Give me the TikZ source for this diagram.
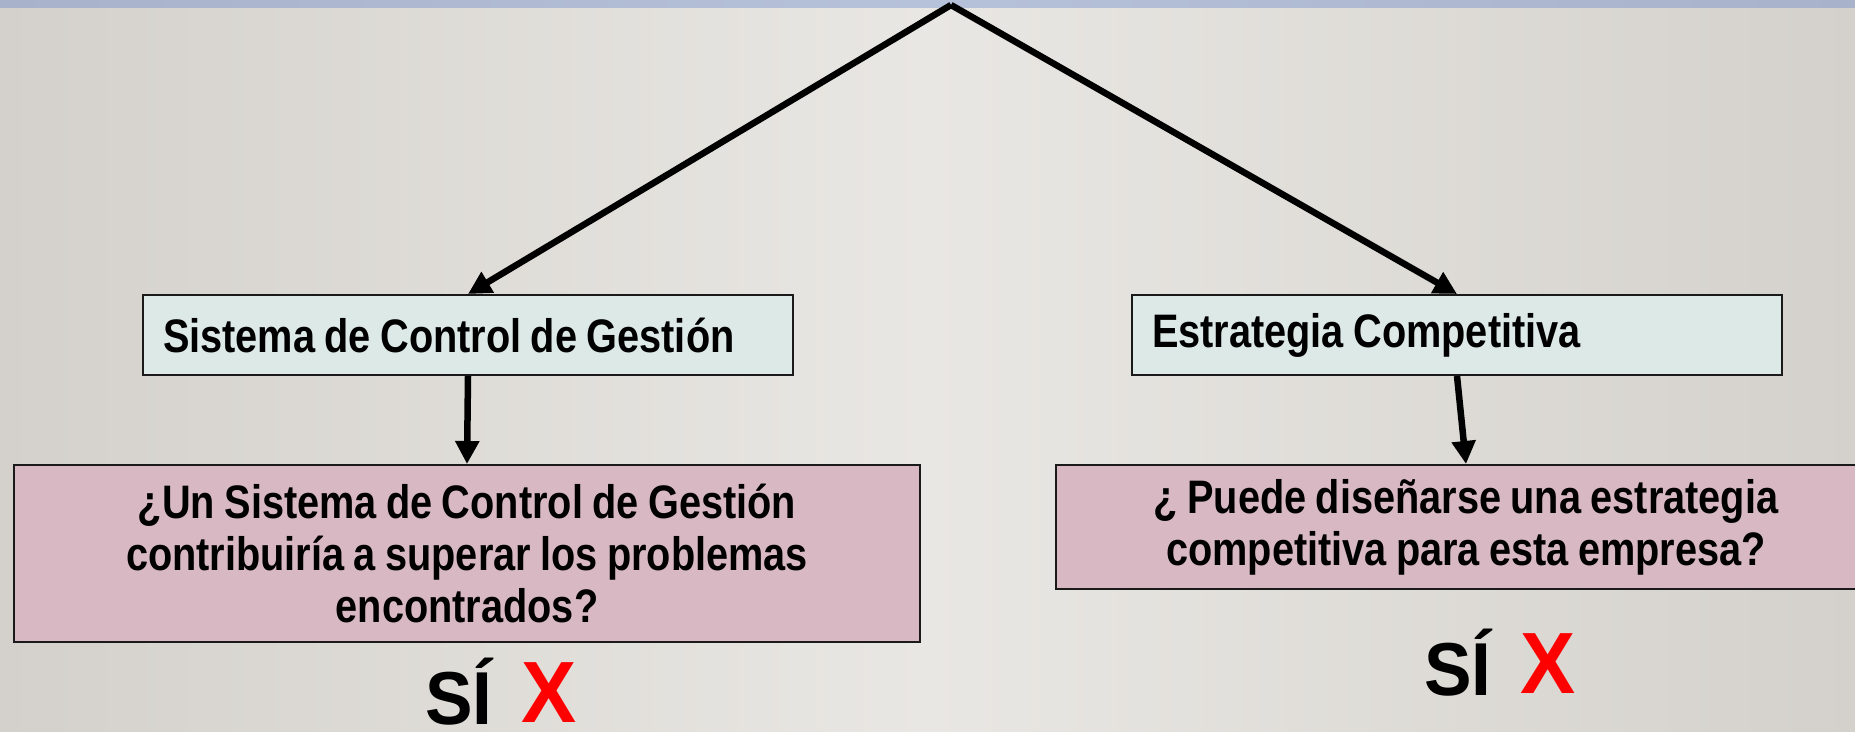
\documentclass[tikz,border=0pt]{standalone}
\usepackage{fontspec}
\setmainfont{Liberation Sans}
\newfontfamily\nb{Liberation Sans}[FakeStretch=0.845, WordSpace=0.85]
\newfontfamily\nx{Liberation Sans}[FakeStretch=0.95]
\usetikzlibrary{arrows.meta}
\definecolor{bgedge}{HTML}{D4D1CC}
\definecolor{bgmid}{HTML}{E9E7E3}
\definecolor{barmid}{HTML}{B6C1DA}
\definecolor{baredge}{HTML}{A8B2CA}
\definecolor{mint}{HTML}{DCE9E6}
\definecolor{rose}{HTML}{D8B9C3}
\definecolor{boxline}{HTML}{1A1A1A}
\definecolor{xred}{HTML}{FF0000}
\tikzset{
  headbox/.style={draw=boxline, line width=2pt, fill=mint, text width=610pt, align=flush left,
    inner xsep=20pt, inner ysep=0pt, minimum height=80pt,
    font=\nb\bfseries\fontsize{47}{52}\selectfont},
  qbox/.style={draw=boxline, line width=2pt, fill=rose, align=center, inner sep=0pt,
    font=\nb\bfseries\fontsize{47}{52}\selectfont},
  link/.style={line width=6.5pt, draw=black, -{Triangle[length=23pt,width=23pt]}},
  answer/.style={inner sep=0pt, anchor=base west, text=black,
    font=\nx\bfseries\fontsize{75}{80}\selectfont},
  cross/.style={inner sep=0pt, anchor=base west, text=xred,
    font=\nx\bfseries\fontsize{87}{90}\selectfont}
}
\begin{document}
\begin{tikzpicture}[x=1pt,y=-1pt]
\useasboundingbox (0,0) rectangle (1855,731);
% background
\shade[left color=bgedge, right color=bgedge, middle color=bgmid] (0,0) rectangle (1855,731);
\shade[left color=baredge, right color=baredge, middle color=barmid] (0,0) rectangle (1855,7);
% boxes
\node[headbox] (b1) at (468,335) {Sistema de Control de Gestión};
\node[headbox] (b2) at (1457,335) {Estrategia Competitiva};
\node[qbox, minimum width=906pt, minimum height=177pt] (b3) at (467,553.5)
  {¿Un Sistema de Control de Gestión\\contribuiría a superar los problemas\\encontrados?};
\node[qbox, minimum width=820pt, minimum height=124pt] (b4) at (1466,527)
  {¿ Puede diseñarse una estrategia\\competitiva para esta empresa?};
% connectors
\coordinate (apex) at (951,5);
\draw[link] (apex) -- (b1.north);
\draw[link] (apex) -- (b2.north);
\draw[link] (b1.south) -- (b3.north);
\draw[link] (b2.south) -- (b4.north);
% answers
\node[answer] (s1) at (425,724) {SÍ};
\node[cross] (x1) at (521,722) {X};
\node[answer] (s2) at (1424,695) {SÍ};
\node[cross] (x2) at (1520,693) {X};
\end{tikzpicture}
\end{document}
